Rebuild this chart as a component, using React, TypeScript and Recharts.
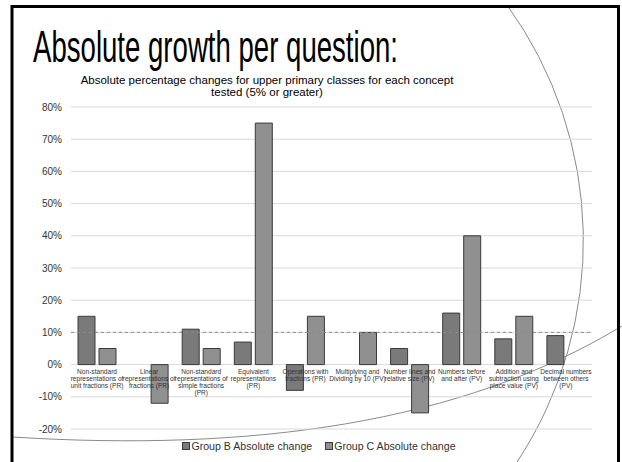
import React from 'react';
import { BarChart, Bar, XAxis, YAxis, CartesianGrid, ReferenceLine } from 'recharts';

// concept tested, line breaks as in the original slide
const categories = [
  'Non-standard\nrepresentations of\nunit fractions (PR)',
  'Linear\nrepresentations of\nfractions (PR)',
  'Non-standard\nrepresentations of\nsimple fractions\n(PR)',
  'Equivalent\nrepresentations\n(PR)',
  'Operations with\nfractions (PR)',
  'Multiplying and\nDividing by 10 (PV)',
  'Number lines and\nrelative size (PV)',
  'Numbers before\nand after (PV)',
  'Addition and\nsubtraction using\nplace value (PV)',
  'Decimal numbers\nbetween others\n(PV)',
];

const groupB = [15, null, 11, 7, -8, null, 5, 16, 8, 9];
const groupC = [5, -12, 5, 75, 15, 10, -15, 40, 15, null];

const yTicks = [-20, -10, 0, 10, 20, 30, 40, 50, 60, 70, 80];
const threshold = 10;

const seriesNames = ['Group B Absolute change', 'Group C Absolute change'];

const W = 622;
const H = 462;
const PLOT_TOP = 107;
const PLOT_BOTTOM = 429;
const Y_MIN = -20;
const Y_MAX = 80;
const ZERO_Y = PLOT_TOP + ((PLOT_BOTTOM - PLOT_TOP) * (Y_MAX - 0)) / (Y_MAX - Y_MIN);

const FILL_B = '#7a7a7a';
const FILL_C = '#909090';
const EDGE = '#3a3a3a';
const FONT = '"Liberation Sans", Arial, sans-serif';

const chartData = categories.map((name, i) => ({
  name,
  b: groupB[i],
  c: groupC[i],
}));

// category labels sit on the 0% line, like Excel does it
const CategoryTick = (props: any) => {
  const { x, payload } = props;
  const lines = String(payload.value).split('\n');
  return (
    <text x={x} y={ZERO_Y + 9.5} textAnchor="middle" fontSize={6.6} fill="#333" fontFamily={FONT}>
      {lines.map((l, i) => (
        <tspan key={i} x={x} dy={i === 0 ? 0 : 6.8}>
          {l}
        </tspan>
      ))}
    </text>
  );
};

export default function App() {
  return (
    <div style={{ position: 'absolute', left: 0, top: 0, width: W, height: H, background: '#fff', overflow: 'hidden' }}>
      {/* slide decoration behind the chart */}
      <svg width={W} height={H} style={{ position: 'absolute', left: 0, top: 0 }}>
        <path d="M507,5 A402,402 0 0 1 517,462" fill="none" stroke="#8a8a8a" strokeWidth={1} />
        <path d="M12,437 C250,452 460,424 622,326" fill="none" stroke="#8a8a8a" strokeWidth={1} />
      </svg>

      <div style={{ position: 'absolute', left: 0, top: 0 }}>
        <BarChart
          width={W}
          height={H}
          data={chartData}
          margin={{ top: PLOT_TOP, right: 30, bottom: H - PLOT_BOTTOM - 1, left: 11 }}
          barSize={17}
          barGap={4}
        >
          <CartesianGrid vertical={false} stroke="#d9d9d9" />
          <XAxis
            dataKey="name"
            height={1}
            axisLine={false}
            tickLine={false}
            interval={0}
            tick={<CategoryTick />}
          />
          <YAxis
            width={60}
            domain={[Y_MIN, Y_MAX]}
            ticks={yTicks}
            interval={0}
            axisLine={false}
            tickLine={false}
            tickSize={0}
            tickMargin={9}
            tickFormatter={(v) => `${v}%`}
            tick={{ fontSize: 10, fill: '#333', fontFamily: FONT }}
          />
          <Bar dataKey="b" name={seriesNames[0]} fill={FILL_B} stroke={EDGE} strokeWidth={1} isAnimationActive={false} />
          <Bar dataKey="c" name={seriesNames[1]} fill={FILL_C} stroke={EDGE} strokeWidth={1} isAnimationActive={false} />
          <ReferenceLine y={threshold} stroke="#8c8c8c" strokeDasharray="3 3" />
        </BarChart>
      </div>

      {/* titles and frame */}
      <svg width={W} height={H} style={{ position: 'absolute', left: 0, top: 0, pointerEvents: 'none' }}>
        <rect x={12} y={6.5} width={606.5} height={470} fill="none" stroke="#000" strokeWidth={3} />
        <text
          x={33}
          y={62}
          fontSize={44}
          fontFamily='"Liberation Sans Narrow", "Liberation Sans", sans-serif'
          textLength={365}
          lengthAdjust="spacingAndGlyphs"
          fill="#000"
        >
          Absolute growth per question:
        </text>
        <text x={267} y={84} textAnchor="middle" fontSize={11.5} fontFamily={FONT} fill="#000">
          Absolute percentage changes for upper primary classes for each concept
        </text>
        <text x={267} y={96} textAnchor="middle" fontSize={11.5} fontFamily={FONT} fill="#000">
          tested (5% or greater)
        </text>
      </svg>

      {/* legend */}
      <div
        style={{
          position: 'absolute',
          left: 0,
          width: 638,
          top: 440,
          display: 'flex',
          justifyContent: 'center',
          gap: 13,
          fontFamily: FONT,
          fontSize: 10.6,
          color: '#333',
        }}
      >
        {seriesNames.map((n, i) => (
          <span key={n} style={{ display: 'flex', alignItems: 'center' }}>
            <span
              style={{
                width: 6,
                height: 6,
                background: i === 0 ? FILL_B : FILL_C,
                border: `1px solid ${EDGE}`,
                marginRight: 1,
                display: 'inline-block',
              }}
            />
            {n}
          </span>
        ))}
      </div>
    </div>
  );
}
